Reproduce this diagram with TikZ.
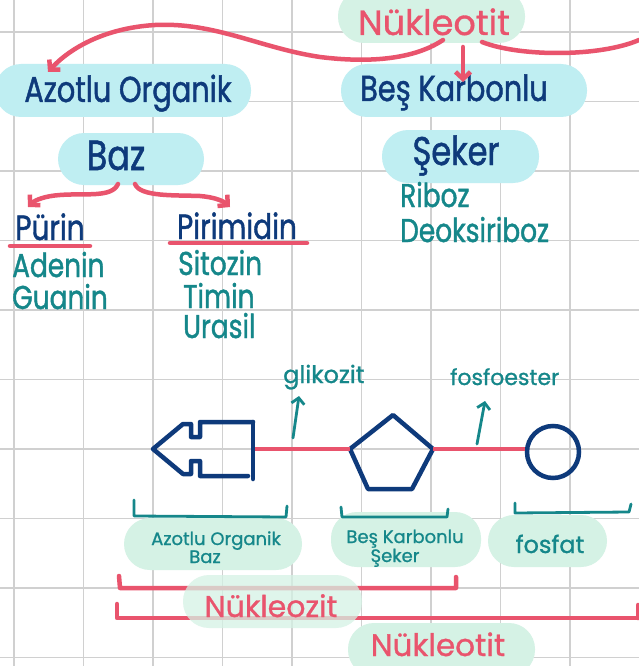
\documentclass[tikz,border=0pt]{standalone}
\usepackage{fontspec}
\setmainfont{Poppins}
\newfontfamily\hand[FakeStretch=0.8,FakeBold=1.2]{Poppins}
\newfontfamily\handw[FakeBold=1]{Poppins}
\usetikzlibrary{arrows.meta}
\definecolor{navy}{HTML}{0E3A7B}
\definecolor{redc}{HTML}{E9546D}
\definecolor{tealc}{HTML}{15878A}
\definecolor{pillc}{HTML}{BFEEF2}
\definecolor{pillg}{HTML}{D5F2E5}
\definecolor{gridc}{HTML}{D0D0D0}
\begin{document}
\begin{tikzpicture}[x=1pt,y=-1pt,
  gridline/.style={draw=gridc, line width=1.6pt},
  cpill/.style={fill=pillc, rounded corners=26pt, inner sep=0pt},
  gpill/.style={fill=pillg, rounded corners=26pt, inner sep=0pt},
  navytxt/.style={text=navy, font=\hand\fontsize{36}{40}\selectfont, inner sep=0pt, anchor=base},
  listtxt/.style={text=tealc, font=\hand\fontsize{33}{36}\selectfont, inner sep=0pt, anchor=base west},
  smalltxt/.style={text=tealc, font=\handw\fontsize{22}{24}\selectfont, inner sep=0pt, anchor=base west},
  pilltxt/.style={text=tealc, font=\handw\fontsize{18}{20}\selectfont, inner sep=0pt, anchor=base},
  redtxt/.style={text=redc, font=\handw\fontsize{34}{36}\selectfont, inner sep=0pt, anchor=base},
  redline/.style={draw=redc, line width=4.5pt, line cap=round, line join=round},
  navyline/.style={draw=navy, line width=4.5pt, line cap=round, line join=round},
  tealline/.style={draw=tealc, line width=2.8pt, line cap=round, line join=round},
  barb/.style={-{Straight Barb[length=7pt,width=15pt]}},
  tbarb/.style={-{Straight Barb[length=6pt,width=13pt]}}
]
\useasboundingbox (0,0) rectangle (639,666);
\clip (0,0) rectangle (639,666);
\fill[white] (0,0) rectangle (639,666);
% grid
\foreach \i in {0,...,9} {\draw[gridline] ({14+69.5*\i},0) -- ({14+69.5*\i},666);}
\foreach \j in {0,...,9} {\draw[gridline] (0,{32+69.5*\j}) -- (639,{32+69.5*\j});}

% pills
\node[gpill, minimum width=187pt, minimum height=53pt] (ptop) at (431.5,16.5) {};
\node[cpill, minimum width=256pt, minimum height=53pt] (pazo) at (123,90.5) {};
\node[cpill, minimum width=146pt, minimum height=52pt] (pbaz) at (131,159) {};
\node[cpill, minimum width=246pt, minimum height=53pt] (pbes) at (464,90.5) {};
\node[cpill, minimum width=157pt, minimum height=53pt] (pseker) at (460.5,156.5) {};
\node[gpill, minimum width=178pt, minimum height=52pt] (pg1) at (213,544) {};
\node[gpill, minimum width=150pt, minimum height=55pt] (pg2) at (406,539.5) {};
\node[gpill, minimum width=119pt, minimum height=52pt] (pg3) at (547.5,541) {};
\node[gpill, minimum width=187pt, minimum height=53pt] (pbot) at (441.5,649.5) {};

% top texts
\node[redtxt, font=\handw\fontsize{35}{38}\selectfont] (tnuk) at (434,35) {Nükleotit};
\node[navytxt] (tazo) at (128,102) {Azotlu Organik};
\node[navytxt, font=\hand\fontsize{42}{44}\selectfont] (tbaz) at (116,170) {Baz};
\node[navytxt] (tbes) at (454,101) {Beş Karbonlu};
\node[navytxt, font=\hand\fontsize{40}{44}\selectfont] (tseker) at (456,165) {Şeker};
\node[listtxt] (trib) at (400,207) {Riboz};
\node[listtxt] (tdeo) at (400,242) {Deoksiriboz};
\node[navytxt, font=\hand\fontsize{35}{38}\selectfont] (tpur) at (50,240) {Pürin};
\node[navytxt, font=\hand\fontsize{35}{38}\selectfont] (tpir) at (237,239) {Pirimidin};
\node[listtxt] (tade) at (12,277) {Adenin};
\node[listtxt] (tgua) at (12,309) {Guanin};
\node[listtxt] (tsit) at (178,275) {Sitozin};
\node[listtxt] (ttim) at (183,308) {Timin};
\node[listtxt] (tura) at (183,338) {Urasil};

% top connectors
\coordinate (r1) at (639,40);
\coordinate (r2) at (482,42);
\coordinate (l1) at (443,40);
\coordinate (atip) at (48,72);
\draw[redline] (r1) .. controls (600,57) and (520,57) .. (r2);
\draw[redline, barb] (l1) .. controls (410,62) and (360,62) .. (320,57) .. controls (260,48) and (215,22) .. (155,25) .. controls (105,28) and (70,48) .. (atip);
\coordinate (d1) at (463,47);
\coordinate (d2) at (463,82);
\draw[redline, barb] (d1) -- (d2);
\coordinate (b1) at (118,184);
\coordinate (b2) at (135,184);
\coordinate (bl) at (28,207);
\coordinate (br) at (230,207);
\draw[redline, barb] (b1) .. controls (112,198) and (85,193) .. (60,195) .. controls (45,196) and (35,200) .. (bl);
\draw[redline, barb] (b2) .. controls (140,197) and (175,195) .. (200,196) .. controls (212,197) and (222,200) .. (br);
\draw[redline] (10,246) -- (90,246);
\draw[redline] (170,243) -- (307,243);

% molecule
\coordinate (bR) at (253,449);
\draw[navyline] (253,422) -- (200,422) -- (200,437) -- (191,437) -- (191,424) -- (183,424) -- (153,449) -- (183,474) -- (191,474) -- (191,461) -- (200,461) -- (200,476) -- (248,476);
\draw[navyline] (253,422) -- (253,479);
\coordinate (pT) at (393,415);
\coordinate (pR) at (433,449);
\coordinate (pBR) at (412,489);
\coordinate (pBL) at (368,489);
\coordinate (pL) at (350,449);
\draw[navyline] (pT) -- (pR) -- (pBR) -- (pBL) -- (pL) -- cycle;
\node[draw=navy, line width=4.5pt, circle, minimum size=52pt, inner sep=0pt] (phos) at (553,452) {};
\draw[redline, line cap=butt] (bR) ++(2,0) -- (pL);
\draw[redline, line cap=butt] (pR) -- (phos.west |- pR);

% bond labels
\node[smalltxt, font=\handw\fontsize{24}{26}\selectfont] (tgli) at (283,383) {glikozit};
\node[smalltxt] (tfos) at (450,385) {fosfoester};
\coordinate (g1) at (293,438);
\coordinate (g2) at (299,396);
\coordinate (f1) at (477,444);
\coordinate (f2) at (485,401);
\draw[tealline, tbarb] (g1) -- (g2);
\draw[tealline, tbarb] (f1) -- (f2);

% teal brackets
\draw[tealline] (134,500) -- (134,516) -- (286,517) -- (287,506);
\draw[tealline] (341,507) -- (342,517) -- (447,517) -- (448,509);
\draw[tealline] (515,503) -- (515,513) -- (629,512) -- (631,504);

% bottom pill texts
\node[pilltxt] (tb1) at (216,545) {Azotlu Organik};
\node[pilltxt] (tb2) at (205,563) {Baz};
\node[pilltxt] (tb3) at (405,543) {Beş Karbonlu};
\node[pilltxt] (tb4) at (395,562) {Şeker};
\node[pilltxt, font=\handw\fontsize{24}{26}\selectfont] (tb5) at (550,553) {fosfat};

% red brackets
\draw[redline] (119,576) -- (120,588) -- (456,588) -- (456,577);
\draw[redline] (117,604) -- (117,618) -- (645,618);
\draw[redline] (638,605) -- (638,618);
\node[gpill, opacity=0.75, minimum width=179pt, minimum height=53pt] (pnz) at (272.5,601.5) {};
\node[redtxt, font=\handw\fontsize{30}{32}\selectfont] (tnz) at (271,617) {Nükleozit};
\node[redtxt, font=\handw\fontsize{31}{33}\selectfont] (tnb) at (438,656) {Nükleotit};
\end{tikzpicture}
\end{document}
